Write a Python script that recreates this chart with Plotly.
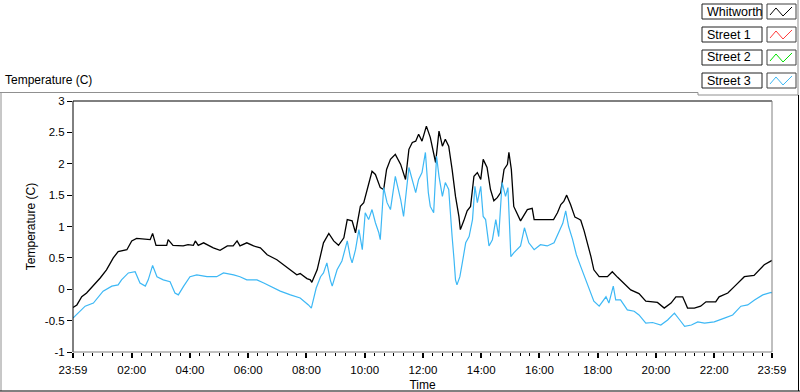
import plotly.graph_objects as go

# ---------------- data (minutes after midnight; -1 = 23:59 previous day) -------------
whit_t = [-1, 7, 17, 27, 41, 55, 68, 82, 92, 110, 120, 130, 158, 163, 170, 192, 195, 205, 226,
          236, 247, 251, 257, 268, 288, 302, 317, 329, 337, 343, 357, 371, 385, 399, 419, 432,
          447, 460, 467, 481, 488, 491, 502, 509, 515, 526, 536, 546, 557, 564, 574, 581, 591,
          598, 605, 615, 622, 632, 639, 645, 653, 663, 674, 684, 691, 698, 705, 711, 718, 727,
          735, 742, 746, 753, 760, 766, 773, 780, 787, 794, 797, 804, 811, 818, 825, 832, 839,
          844, 852, 859, 866, 873, 880, 887, 894, 897, 902, 907, 914, 921, 935, 945, 949, 962,
          989, 997, 1004, 1010, 1016, 1024, 1033, 1041, 1045, 1052, 1059, 1066, 1072, 1083,
          1100, 1110, 1121, 1134, 1148, 1165, 1179, 1203, 1217, 1231, 1241, 1255, 1265, 1279,
          1292, 1303, 1323, 1330, 1348, 1365, 1382, 1402, 1413, 1423, 1439]
whit_v = [-0.29, -0.25, -0.12, -0.06, 0.06, 0.18, 0.31, 0.50, 0.60, 0.63, 0.77, 0.81, 0.79, 0.89,
          0.70, 0.70, 0.79, 0.70, 0.69, 0.71, 0.70, 0.77, 0.70, 0.74, 0.66, 0.62, 0.69, 0.69,
          0.77, 0.69, 0.74, 0.69, 0.66, 0.55, 0.47, 0.39, 0.31, 0.23, 0.25, 0.17, 0.15, 0.11,
          0.31, 0.52, 0.74, 0.89, 0.77, 0.70, 0.82, 1.11, 1.09, 0.90, 1.32, 1.38, 1.59, 1.88,
          1.83, 1.62, 1.59, 1.91, 2.07, 2.15, 1.99, 1.75, 2.23, 2.34, 2.36, 2.47, 2.36, 2.60,
          2.42, 2.15, 2.02, 2.52, 2.28, 2.39, 2.28, 1.91, 1.48, 1.16, 0.95, 1.09, 1.25, 1.32,
          1.80, 1.86, 1.75, 2.07, 1.94, 1.59, 1.41, 1.46, 1.54, 1.91, 1.99, 2.18, 1.91, 1.32,
          1.19, 1.09, 1.27, 1.29, 1.11, 1.11, 1.11, 1.22, 1.35, 1.40, 1.50, 1.35, 1.15, 1.12,
          1.10, 0.93, 0.74, 0.52, 0.31, 0.20, 0.20, 0.28, 0.19, 0.10, -0.01, -0.07, -0.19,
          -0.21, -0.30, -0.22, -0.12, -0.12, -0.30, -0.30, -0.27, -0.20, -0.20, -0.12, -0.06,
          0.07, 0.20, 0.22, 0.31, 0.39, 0.46]

st3_t = [-1, 9, 24, 41, 51, 61, 79, 92, 99, 113, 127, 137, 148, 154, 163, 172, 185, 199, 209,
         216, 227, 240, 254, 275, 295, 309, 330, 343, 357, 378, 392, 405, 426, 447, 467, 484,
         490, 500, 509, 515, 522, 529, 533, 543, 553, 564, 570, 574, 581, 588, 595, 601, 608,
         615, 622, 629, 632, 639, 646, 653, 663, 674, 680, 691, 698, 705, 711, 718, 725, 731,
         735, 742, 748, 753, 760, 766, 773, 777, 780, 784, 787, 790, 796, 801, 808, 815, 822,
         827, 832, 839, 844, 849, 856, 863, 870, 876, 883, 890, 895, 901, 907, 921, 929, 938,
         949, 962, 976, 990, 1000, 1008, 1014, 1020, 1028, 1036, 1045, 1055, 1066, 1072, 1083,
         1090, 1097, 1103, 1112, 1117, 1127, 1141, 1155, 1165, 1179, 1193, 1210, 1224, 1238,
         1249, 1259, 1273, 1286, 1300, 1320, 1341, 1358, 1375, 1389, 1403, 1420, 1437, 1439]
st3_v = [-0.46, -0.38, -0.27, -0.22, -0.12, -0.03, 0.05, 0.07, 0.15, 0.26, 0.28, 0.10, 0.05,
         0.15, 0.38, 0.20, 0.15, 0.12, -0.06, -0.09, 0.05, 0.20, 0.23, 0.20, 0.20, 0.26, 0.23,
         0.20, 0.15, 0.15, 0.10, 0.05, -0.03, -0.09, -0.14, -0.25, -0.30, 0.02, 0.20, 0.26,
         0.42, 0.15, 0.05, 0.31, 0.45, 0.77, 0.52, 0.42, 0.63, 0.95, 0.63, 1.22, 1.11, 1.27,
         1.06, 0.90, 0.79, 1.62, 1.38, 1.27, 1.80, 1.43, 1.16, 1.94, 1.72, 1.54, 1.75, 1.86,
         2.18, 1.54, 1.32, 1.22, 2.12, 1.80, 1.48, 1.70, 1.59, 1.11, 0.84, 0.47, 0.15, 0.07,
         0.20, 0.42, 0.74, 0.84, 1.11, 1.64, 1.38, 1.64, 1.16, 1.11, 0.69, 0.79, 1.11, 0.84,
         1.70, 1.48, 1.62, 0.52, 0.58, 0.69, 0.98, 0.74, 0.63, 0.71, 0.69, 0.74, 0.90, 1.05,
         1.25, 1.00, 0.80, 0.55, 0.36, 0.15, -0.06, -0.19, -0.27, -0.19, -0.12, -0.22, 0.05,
         -0.17, -0.17, -0.33, -0.35, -0.41, -0.54, -0.53, -0.57, -0.49, -0.38, -0.49, -0.59,
         -0.57, -0.52, -0.54, -0.52, -0.46, -0.41, -0.27, -0.25, -0.17, -0.09, -0.05, -0.06]

series_names = ["Whitworth", "Street 1", "Street 2", "Street 3"]
series_colors = ["#000000", "#FF3A3A", "#00E000", "#3DB8F5"]

x_tick_vals = [-1, 120, 240, 360, 480, 600, 720, 840, 960, 1080, 1200, 1320, 1439]
x_tick_text = ["23:59", "02:00", "04:00", "06:00", "08:00", "10:00", "12:00", "14:00",
               "16:00", "18:00", "20:00", "22:00", "23:59"]
y_tick_vals = [-1, -0.5, 0, 0.5, 1, 1.5, 2, 2.5, 3]
y_tick_text = ["-1", "-0.5", "0", "0.5", "1", "1.5", "2", "2.5", "3"]

# ---------------- geometry helpers (pixel -> paper) ----------------
W, H = 800, 392
L, R, T, B = 73, 772, 101, 352
def px(x):
    return (x - L) / (R - L)
def py(y):
    return (B - y) / (B - T)

FONT = "Liberation Sans, Arial, sans-serif"

fig = go.Figure()
fig.add_trace(go.Scatter(x=whit_t, y=whit_v, mode="lines", name=series_names[0],
                         line=dict(color=series_colors[0], width=1.3), hoverinfo="skip"))
fig.add_trace(go.Scatter(x=st3_t, y=st3_v, mode="lines", name=series_names[3],
                         line=dict(color=series_colors[3], width=1.2), hoverinfo="skip"))

shapes = []
def line(x0, y0, x1, y1, color, width=1):
    shapes.append(dict(type="line", xref="paper", yref="paper",
                       x0=px(x0), y0=py(y0), x1=px(x1), y1=py(y1),
                       line=dict(color=color, width=width)))

# plot-area frame (sunken look)
line(L, T, R, T, "#000000")
line(L, T, L, B, "#000000")
line(R, T, R, B, "#808080")
line(L, B, R, B, "#808080")

# outer frame
line(0, 92.5, 698, 92.5, "#909090")
line(698, 92.5, 698, 95, "#909090")
line(698, 95, 798, 95, "#909090")
line(798, 0, 798, 95, "#909090")
line(1, 92.5, 1, 391, "#909090")
line(0, 391, 800, 391, "#000000")
line(798.5, 95, 798.5, 391, "#000000")

annotations = []
# legend boxes
tops = [4, 27, 50, 73]
for name, col, top in zip(series_names, series_colors, tops):
    shapes.append(dict(type="rect", xref="paper", yref="paper",
                       x0=px(702), x1=px(762), y0=py(top), y1=py(top + 15),
                       line=dict(color="#202020", width=1), fillcolor="white"))
    shapes.append(dict(type="rect", xref="paper", yref="paper",
                       x0=px(767), x1=px(796), y0=py(top), y1=py(top + 15),
                       line=dict(color="#404040", width=1), fillcolor="white"))
    pts = [(770, top + 11), (776, top + 4), (783, top + 12), (792, top + 3)]
    path = "M " + " L ".join(f"{px(a):.5f},{py(b):.5f}" for a, b in pts)
    shapes.append(dict(type="path", xref="paper", yref="paper", path=path,
                       line=dict(color=col, width=1)))
    annotations.append(dict(xref="paper", yref="paper", x=px(704.5), y=py(top + 7.5),
                            xanchor="left", yanchor="middle", showarrow=False,
                            text=name, font=dict(family=FONT, size=12.5, color="#000")))

annotations.append(dict(xref="paper", yref="paper", x=px(3), y=py(80),
                        xanchor="left", yanchor="middle", showarrow=False,
                        text="Temperature (C)", font=dict(family=FONT, size=12, color="#000")))

fig.update_layout(
    width=W, height=H,
    margin=dict(l=L, r=W - R, t=T, b=H - B, pad=0, autoexpand=False),
    paper_bgcolor="white", plot_bgcolor="white",
    showlegend=False,
    shapes=shapes, annotations=annotations,
    font=dict(family=FONT, size=11, color="#000"),
    xaxis=dict(range=[-1, 1439], tickmode="array", tickvals=x_tick_vals, ticktext=x_tick_text,
               automargin=False,
               ticks="outside", ticklen=5, tickwidth=2, tickcolor="#000",
               ticklabelstandoff=2,
               minor=dict(ticks="outside", ticklen=3, tickwidth=1, tickcolor="#000",
                          tick0=0, dtick=20),
               showgrid=False, zeroline=False, showline=False,
               tickfont=dict(family=FONT, size=11.5, color="#000"),
               title=dict(text="Time", standoff=5, font=dict(family=FONT, size=12, color="#000"))),
    yaxis=dict(range=[-1, 3], tickmode="array", tickvals=y_tick_vals, ticktext=y_tick_text,
               automargin=False,
               ticks="outside", ticklen=5, tickwidth=1, tickcolor="#000",
               showgrid=False, zeroline=False, showline=False,
               tickfont=dict(family=FONT, size=11.5, color="#000"),
               title=dict(text="Temperature (C)", standoff=6,
                          font=dict(family=FONT, size=12, color="#000"))),
)

fig.write_html("out.html", config={"displayModeBar": False},
               post_script="document.body.style.margin='0';document.body.style.padding='0';")
